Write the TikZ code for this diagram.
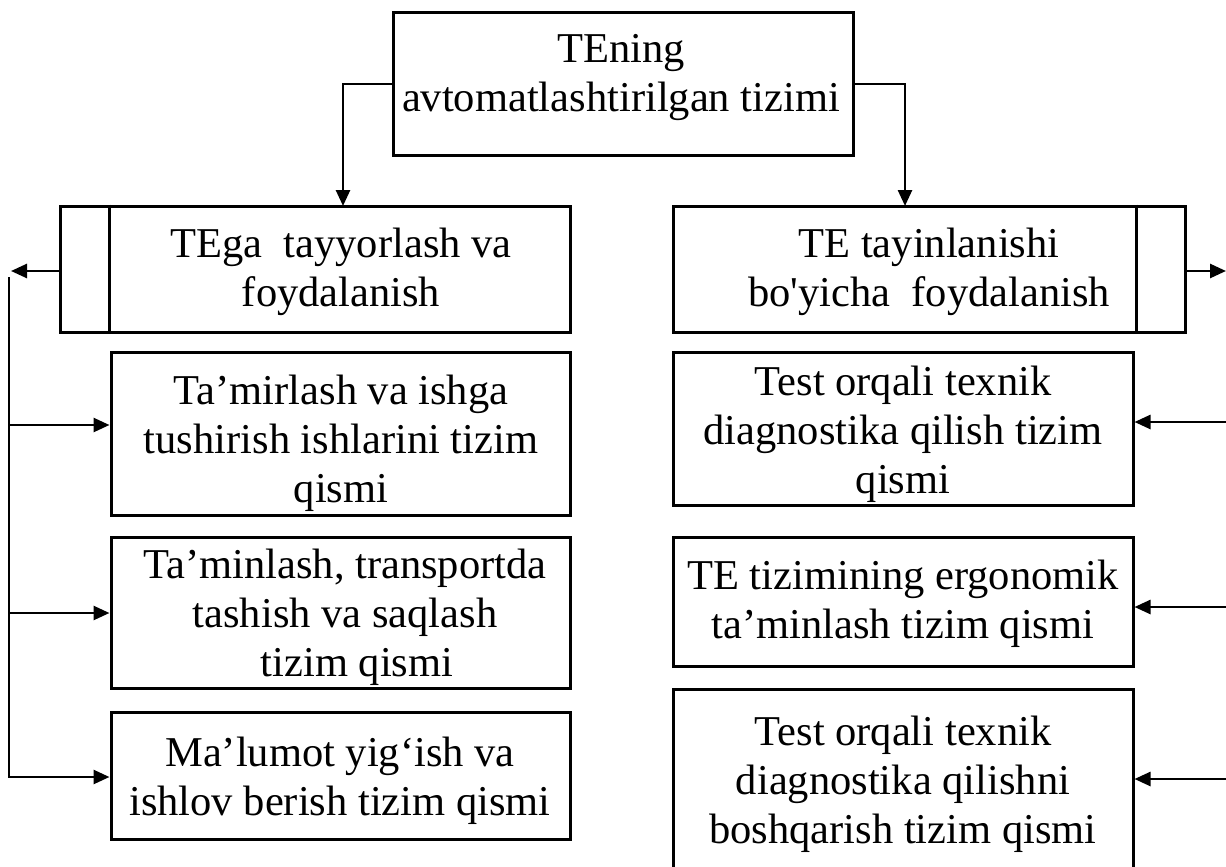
\documentclass[tikz,border=0pt]{standalone}
\usepackage{fontspec}
\setmainfont{Liberation Serif}
\usetikzlibrary{arrows.meta,calc}
\newcommand\sqap{\XeTeXglyph\XeTeXcharglyph"0027\relax}
\begin{document}
\begin{tikzpicture}[x=1pt,y=-1pt,
  box/.style={draw,line width=3pt,inner sep=0pt},
  txt/.style={font=\fontsize{42.5}{49}\selectfont,align=center,inner sep=0pt},
  arr/.style={line width=2.6pt,-{Triangle[length=16pt,width=14pt]}},
  ln/.style={line width=3pt}]
\useasboundingbox (0,0) rectangle (1226,867);
\clip (0,0) rectangle (1226,867);
% top box
\node[box,minimum width=460pt,minimum height=142pt] (top) at (623,84) {};
\node[txt] (topt) at (621,78) {TEning\\avtomatlashtirilgan tizimi};
% second level
\node[box,minimum width=510pt,minimum height=126pt] (l2) at (315,269) {};
\draw[ln] ([xshift=51pt]l2.north west) -- ([xshift=51pt]l2.south west);
\node[txt] (l2t) at (341,272) {TEga\ \ tayyorlash va\\foydalanish};
\node[box,minimum width=512pt,minimum height=126pt] (r2) at (929,269) {};
\draw[ln] ([xshift=-50pt]r2.north east) -- ([xshift=-50pt]r2.south east);
\node[txt] (r2t) at (929,272) {TE tayinlanishi\\bo\sqap yicha\ \ foydalanish};
% connectors from top
\coordinate (cL) at (343,206);
\coordinate (cR) at (905,206);
\draw[arr] (top.west) -| (cL);
\draw[arr] (top.east) -| (cR);
% left sub boxes
\node[box,minimum width=459pt,minimum height=163pt] (lb1) at (340.5,433.5) {};
\node[txt] (lb1t) at (341,443) {Ta’mirlash va ishga\\tushirish ishlarini tizim\\qismi};
\node[box,minimum width=459pt,minimum height=151pt] (lb2) at (340.5,612.5) {};
\node[txt] (lb2t) at (345,617) {Ta’minlash, transportda\\tashish va saqlash\\\hspace*{24pt}tizim qismi};
\node[box,minimum width=459pt,minimum height=127pt] (lb3) at (340.5,775.5) {};
\node[txt] (lb3t) at (340,781) {Ma’lumot yig‘ish va\\ishlov berish tizim qismi};
% left column
\coordinate (colA) at (11,271);
\coordinate (colT) at (9,277);
\coordinate (j1) at (9,425);
\coordinate (j2) at (9,613);
\coordinate (j3) at (9,777);
\draw[arr] (l2.west |- colA) -- (colA);
\draw[arr] (colT) -- (j3) -- (j3 -| lb3.west);
\draw[arr] (j1) -- (j1 -| lb1.west);
\draw[arr] (j2) -- (j2 -| lb2.west);
% right sub boxes
\node[box,minimum width=460pt,minimum height=153pt] (rb1) at (903,428.5) {};
\node[txt] (rb1t) at (903,434) {Test orqali texnik\\diagnostika qilish tizim\\qismi};
\node[box,minimum width=460pt,minimum height=129pt] (rb2) at (903,601.5) {};
\node[txt] (rb2t) at (903,604) {TE tizimining ergonomik\\ta’minlash tizim qismi};
\node[box,minimum width=460pt,minimum height=261pt] (rb3) at (903,819.5) {};
\node[txt] (rb3t) at (903,784) {Test orqali texnik\\diagnostika qilishni\\boshqarish tizim qismi};
% right arrows
\coordinate (o1) at (1226,271);
\coordinate (k1) at (1226,422);
\coordinate (k2) at (1226,607);
\coordinate (k3) at (1226,779);
\draw[arr] (r2.east |- o1) -- (o1);
\draw[arr] (k1) -- (k1 -| rb1.east);
\draw[arr] (k2) -- (k2 -| rb2.east);
\draw[arr] (k3) -- (k3 -| rb3.east);
\end{tikzpicture}
\end{document}
